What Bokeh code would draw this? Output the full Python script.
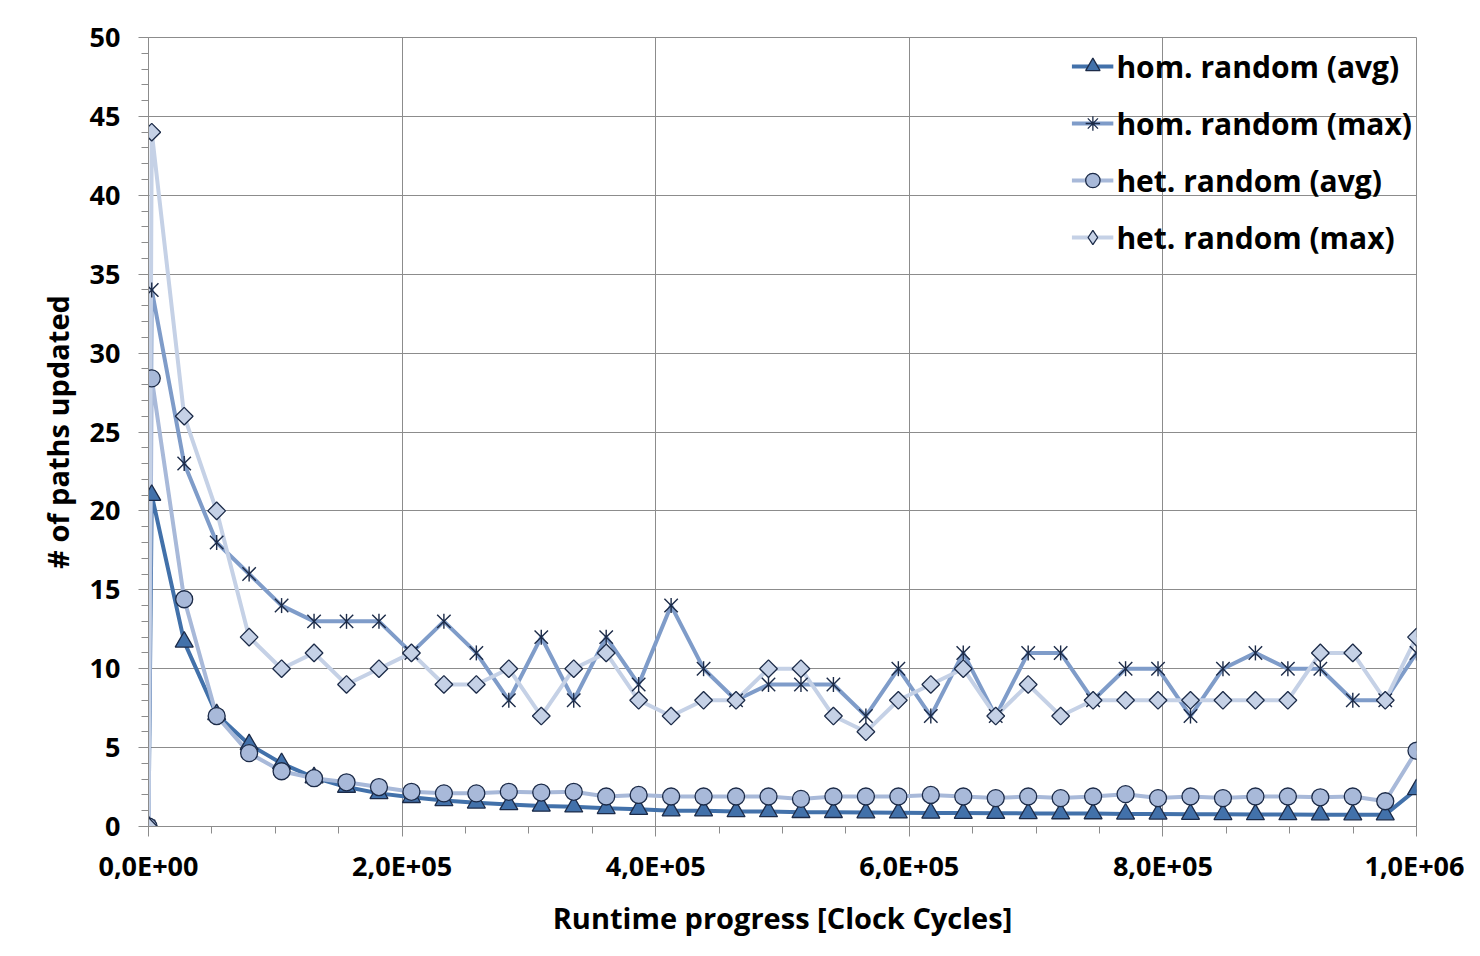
import math
from bokeh.plotting import figure
from bokeh.models import Range1d, SingleIntervalTicker, Legend, LegendItem
from bokeh.embed import file_html
from bokeh.resources import INLINE

# ---------------- data ----------------
cycles = [0, 2560, 28160, 53760, 79360, 104960, 130560, 156160, 181760, 207360,
          232960, 258560, 284160, 309760, 335360, 360960, 386560, 412160, 437760,
          463360, 488960, 514560, 540160, 565760, 591360, 616960, 642560, 668160,
          693760, 719360, 744960, 770560, 796160, 821760, 847360, 872960, 898560,
          924160, 949760, 975360, 1000000]

hom_avg = [0, 21.0, 11.7, 7.1, 5.2, 4.0, 3.1, 2.5, 2.1, 1.85,
           1.65, 1.5, 1.4, 1.3, 1.25, 1.15, 1.1, 1.0, 1.0, 0.95,
           0.95, 0.9, 0.9, 0.88, 0.87, 0.86, 0.85, 0.84, 0.83, 0.82,
           0.82, 0.8, 0.8, 0.78, 0.77, 0.76, 0.76, 0.75, 0.75, 0.75, 2.35]

hom_max = [0, 34, 23, 18, 16, 14, 13, 13, 13, 11,
           13, 11, 8, 12, 8, 12, 9, 14, 10, 8,
           9, 9, 9, 7, 10, 7, 11, 7, 11, 11,
           8, 10, 10, 7, 10, 11, 10, 10, 8, 8, 11]

het_avg = [0, 28.4, 14.4, 7.0, 4.65, 3.5, 3.06, 2.8, 2.5, 2.2,
           2.1, 2.1, 2.2, 2.15, 2.2, 1.9, 2.0, 1.9, 1.9, 1.9,
           1.9, 1.75, 1.9, 1.9, 1.9, 2.0, 1.9, 1.8, 1.9, 1.8,
           1.9, 2.05, 1.8, 1.9, 1.8, 1.9, 1.9, 1.85, 1.9, 1.6, 4.8]

het_max = [0, 44, 26, 20, 12, 10, 11, 9, 10, 11,
           9, 9, 10, 7, 10, 11, 8, 7, 8, 8,
           10, 10, 7, 6, 8, 9, 10, 7, 9, 7,
           8, 8, 8, 8, 8, 8, 8, 11, 11, 8, 12]

series_labels = ["hom. random (avg)", "hom. random (max)", "het. random (avg)", "het. random (max)"]
x_tick_values = [0, 200000, 400000, 600000, 800000, 1000000]
x_tick_labels = ["0,0E+00", "2,0E+05", "4,0E+05", "6,0E+05", "8,0E+05", "1,0E+06"]
x_title = "Runtime progress [Clock Cycles]"
y_title = "# of paths updated"

# ---------------- styling ----------------
FONT = "Open Sans"
GRID = "#8c8c8c"
OUTLINE = "#1c2b48"
C_HOM_AVG = "#4271aa"
C_HOM_MAX = "#7f9cc9"
C_HET_AVG = "#a8b9d9"
C_HET_MAX = "#c5d1e6"

p = figure(width=1464, height=940, output_backend="svg", toolbar_location=None,
           title=None,
           x_range=Range1d(0, 1000000), y_range=Range1d(0, 50),
           min_border_left=148, min_border_right=48, min_border_top=37, min_border_bottom=114)
p.background_fill_color = "white"
p.border_fill_color = "white"
p.outline_line_color = GRID

# axes
p.xaxis.ticker = SingleIntervalTicker(interval=200000, num_minor_ticks=4)
p.xaxis.major_label_overrides = dict(zip(x_tick_values, x_tick_labels))
p.yaxis.ticker = SingleIntervalTicker(interval=5, num_minor_ticks=5)
for ax in (p.xaxis[0], p.yaxis[0]):
    ax.axis_line_color = GRID
    ax.major_tick_line_color = GRID
    ax.minor_tick_line_color = GRID
    ax.major_tick_in = 0
    ax.minor_tick_in = 0
    ax.major_tick_out = 10
    ax.minor_tick_out = 7
    ax.major_label_text_font = FONT
    ax.major_label_text_font_style = "bold"
    ax.major_label_text_font_size = "27px"
    ax.major_label_text_color = "black"
    ax.axis_label_text_font = FONT
    ax.axis_label_text_font_style = "bold"
    ax.axis_label_text_font_size = "29px"
    ax.axis_label_text_color = "black"
p.xaxis.axis_label = x_title
p.yaxis.axis_label = y_title
p.xaxis.major_label_standoff = 10
p.xaxis.axis_label_standoff = 11
p.yaxis.major_label_standoff = 18
p.yaxis.axis_label_standoff = 10

p.xgrid.grid_line_color = GRID
p.ygrid.grid_line_color = GRID
p.xgrid.grid_line_width = 1
p.ygrid.grid_line_width = 1

# lines
lw = 4
l1 = p.line(cycles, hom_avg, line_color=C_HOM_AVG, line_width=lw, line_join="round")
l2 = p.line(cycles, hom_max, line_color=C_HOM_MAX, line_width=lw, line_join="round")
l3 = p.line(cycles, het_avg, line_color=C_HET_AVG, line_width=lw, line_join="round")
l4 = p.line(cycles, het_max, line_color=C_HET_MAX, line_width=lw, line_join="round")

# markers
m1 = p.scatter(cycles, hom_avg, marker="triangle", size=18, fill_color=C_HOM_AVG,
               line_color=OUTLINE, line_width=1.3)
m2a = p.scatter(cycles, hom_max, marker="x", size=19, line_color=OUTLINE, line_width=1.4)
m2b = p.scatter(cycles, hom_max, marker="dash", size=15, angle=math.pi / 2,
                line_color=OUTLINE, line_width=1.4)
m3 = p.scatter(cycles, het_avg, marker="circle", size=17, fill_color=C_HET_AVG,
               line_color=OUTLINE, line_width=1.3)
m4 = p.scatter(cycles, het_max, marker="square", size=12.5, angle=math.pi / 4,
               fill_color=C_HET_MAX, line_color=OUTLINE, line_width=1.3)

# legend-only marker glyphs (a single undefined point, never drawn in the plot)
nan = float("nan")
lg_star = p.scatter([nan], [nan], marker="asterisk", line_color=OUTLINE, line_width=1.3)
lg_diam = p.scatter([nan], [nan], marker="diamond", fill_color=C_HET_MAX,
                    line_color=OUTLINE, line_width=1.3)

legend = Legend(items=[
    LegendItem(label=series_labels[0], renderers=[l1, m1]),
    LegendItem(label=series_labels[1], renderers=[l2, lg_star]),
    LegendItem(label=series_labels[2], renderers=[l3, m3]),
    LegendItem(label=series_labels[3], renderers=[l4, lg_diam]),
], location="top_right")
legend.background_fill_alpha = 0
legend.border_line_alpha = 0
legend.label_text_font = FONT
legend.label_text_font_style = "bold"
legend.label_text_font_size = "30px"
legend.label_text_color = "black"
legend.glyph_width = 42
legend.glyph_height = 36
legend.label_height = 50
legend.spacing = 7
legend.padding = 4
legend.margin = 0
legend.label_standoff = 3
p.add_layout(legend)

open("out.html", "w").write(file_html(p, INLINE))
